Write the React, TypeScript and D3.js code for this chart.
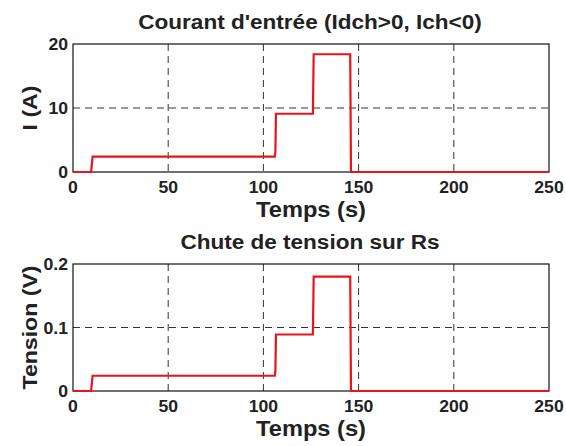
import React from "react";
import * as d3 from "d3";

const times = [0, 9.5, 10.3, 106, 106.3, 106.6, 126, 126.4, 145.6, 146, 250];
const current = [0, 0, 2.4, 2.4, 3.2, 9.1, 9.1, 18.4, 18.4, 0, 0];
const voltage = [0, 0, 0.024, 0.024, 0.032, 0.089, 0.089, 0.18, 0.18, 0, 0];
const xTicks = [0, 50, 100, 150, 200, 250];
const yTicksTop = [0, 10, 20];
const yTicksBottom = [0, 0.1, 0.2];
const yTickLabelsBottom = ["0", "0.1", "0.2"];

const W = 566, H = 446;
const left = 73, right = 549;
const FONT = "'Liberation Sans', Arial, Helvetica, sans-serif";

function Panel({ top, bottom, yMax, yTicks, yLabels, values, title, ylabel }: any) {
  const x = d3.scaleLinear().domain([0, 250]).range([left, right]);
  const y = d3.scaleLinear().domain([0, yMax]).range([bottom, top]);
  const line = d3.line<number>().x((_, i) => x(times[i])).y((v) => y(v));
  const sx = 1.1;
  const stretched = (cx: number, cy: number, size: number, txt: string, anchor = "middle", rot = false) => (
    <text
      transform={rot ? `translate(${cx},${cy}) rotate(-90) scale(${sx},1)` : `translate(${cx},${cy}) scale(${sx},1)`}
      textAnchor={anchor}
      fontFamily={FONT}
      fontWeight="bold"
      fontSize={size}
      fill="#222"
    >
      {txt}
    </text>
  );
  return (
    <g>
      {xTicks.slice(1, -1).map((t) => (
        <line key={"gx" + t} x1={x(t)} x2={x(t)} y1={top} y2={bottom} stroke="#333" strokeDasharray="7,5" strokeWidth={1} />
      ))}
      {yTicks.slice(1, -1).map((t: number) => (
        <line key={"gy" + t} x1={left} x2={right} y1={y(t)} y2={y(t)} stroke="#333" strokeDasharray="7,5" strokeWidth={1} />
      ))}
      <rect x={left} y={top} width={right - left} height={bottom - top} fill="none" stroke="#111" strokeWidth={1.2} />
      <path d={line(values) || ""} fill="none" stroke="#e8141c" strokeWidth={2.2} strokeLinejoin="miter" />
      {xTicks.map((t) => (
        <g key={"xt" + t}>
          {stretched(x(t), bottom + 21, 16, String(t))}
        </g>
      ))}
      {yTicks.map((t: number, i: number) => (
        <g key={"yt" + t}>
          {stretched(left - 5, y(t) + 6, 16, yLabels[i], "end")}
        </g>
      ))}
      {stretched((left + right) / 2 - 1, top - 15, 20.5, title)}
      {stretched(311, bottom + 45, 21.5, "Temps (s)")}
      {stretched(37, (top + bottom) / 2, 21, ylabel, "middle", true)}
    </g>
  );
}

export default function App() {
  return (
    <svg width={W} height={H} style={{ display: "block", position: "absolute", left: 0, top: 0, background: "#fff" }}>
      <rect x={0} y={0} width={W} height={H} fill="#fff" />
      <Panel top={44} bottom={172} yMax={20} yTicks={yTicksTop} yLabels={yTicksTop.map(String)} values={current}
        title="Courant d'entrée (Idch>0, Ich<0)" ylabel="I (A)" />
      <Panel top={264} bottom={391} yMax={0.2} yTicks={yTicksBottom} yLabels={yTickLabelsBottom} values={voltage}
        title="Chute de tension sur Rs" ylabel="Tension (V)" />
    </svg>
  );
}
